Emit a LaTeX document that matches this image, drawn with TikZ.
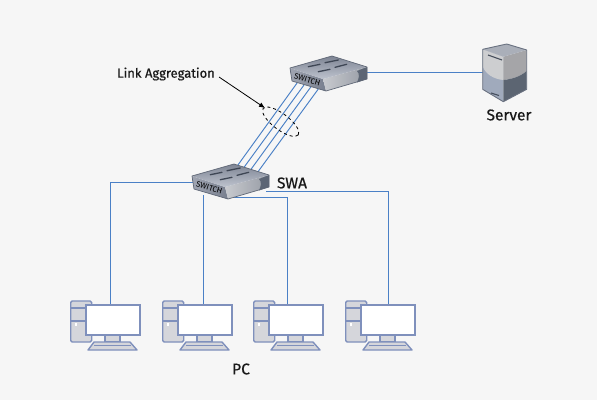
\documentclass[tikz,border=0pt]{standalone}
\usepackage{fontspec}
\setmainfont{Fira Sans}
\newfontfamily\lblfont[FakeBold=0.5]{Fira Sans}
\usetikzlibrary{shapes.geometric,arrows.meta,backgrounds}
\definecolor{bgc}{HTML}{F6F6F6}
\definecolor{linkc}{HTML}{4A80C6}
\definecolor{pcs}{HTML}{7F90BC}
\definecolor{pcf}{HTML}{D5D6DB}
\tikzset{
  conn/.style={draw=linkc,line width=0.95pt},
  lbl/.style={font=\lblfont\fontsize{13}{15}\selectfont,text=black!90,inner sep=0pt},
  biglbl/.style={font=\lblfont\fontsize{15.5}{17}\selectfont,text=black!90,inner sep=0pt},
  pics/switchicon/.style={code={
    \node[inner sep=0pt,minimum width=77pt,minimum height=34pt] (-body) at (38,5) {};
    \shade[left color={rgb,255:red,160;green,165;blue,178},right color={rgb,255:red,120;green,127;blue,142},line join=round] (0,0) -- (33,11) -- (36,23) -- (2,13) -- cycle;
    \shade[left color={rgb,255:red,200;green,202;blue,207},right color={rgb,255:red,150;green,155;blue,164}] (33,11) -- (77,-1) -- (77,11) -- (36,23) -- cycle;
    \fill[fill={rgb,255:red,92;green,101;blue,116}] (67,3) .. controls (70,6) and (69,10) .. (67,14.5) -- (77,11) -- (77,-1) -- cycle;
    \shade[top color={rgb,255:red,125;green,132;blue,147},bottom color={rgb,255:red,190;green,195;blue,206}] (0,0) -- (42,-12) -- (77,-1) -- (33,11) -- cycle;
    \draw[draw={rgb,255:red,62;green,70;blue,84},line width=1.3pt,line cap=round]
      (18.3,-1.3) -- (30,-3.7) (35,-5.3) -- (48.3,-8) (28.3,3.7) -- (40,1.3) (45,-0.7) -- (56.7,-3.7);
    \draw[draw={rgb,255:red,95;green,103;blue,118},line width=0.7pt,line join=round] (0,0) -- (2,13) -- (36,23) -- (77,11) -- (77,-1) -- (42,-12) -- cycle;
    \node[rotate=-17,inner sep=0pt,text=black,font=\fontsize{8}{9}\selectfont] at (17.3,11.5) {SWITCH};
  }},
  pics/pcicon/.style={code={
    \draw[draw=pcs,fill=pcf,line width=1.4pt,rounded corners=1.5pt] (0.7,0) rectangle (21.7,41);
    \draw[draw=pcs,line width=1.4pt] (0.7,7) -- (15,7) (0.7,20) -- (15,20);
    \fill[white] (4.5,22) rectangle +(2.5,2.5);
    \draw[draw=pcs,fill=pcf,line width=1.1pt] (35,34) rectangle (50,41);
    \draw[draw=pcs,fill=pcf,line width=1.4pt,line join=round] (24,41) -- (60,41) -- (67,49) -- (18,49) -- cycle;
    \draw[draw=pcs,line width=0.8pt] (24,44.5) -- (61,44.5);
    \node[draw=pcs,fill=white,line width=2pt,inner sep=0pt,minimum width=54pt,minimum height=30pt] (-monitor) at (42.5,19) {};
  }},
  pics/servericon/.style={code={
    \fill[fill={rgb,255:red,160;green,170;blue,188}] (-24.3,5.3) -- (-3.7,12.7) -- (-3.7,57.7) -- (-24.3,45.3) -- cycle;
    \fill[fill={rgb,255:red,205;green,206;blue,208}] (-24.3,5.3) -- (-3.7,12.7) -- (-3.7,36) .. controls (-14,35) and (-21,30) .. (-24.3,22.7) -- cycle;
    \fill[fill={rgb,255:red,165;green,165;blue,168}] (-3.7,12.7) -- (19.7,6) -- (19.7,27) .. controls (14,32) and (6,35) .. (-3.7,36) -- cycle;
    \fill[fill={rgb,255:red,92;green,101;blue,114}] (-3.7,36) .. controls (6,35) and (14,32) .. (19.7,27) -- (19.7,45.3) -- (-3.7,57.7) -- cycle;
    \fill[fill={rgb,255:red,170;green,175;blue,185}] (-24.3,5.3) -- (-0.3,0) -- (19.7,6) -- (-3.7,12.7) -- cycle;
    \draw[draw={rgb,255:red,105;green,113;blue,128},line width=0.9pt,line join=round] (-24.3,5.3) -- (-0.3,0) -- (19.7,6) -- (19.7,45.3) -- (-3.7,57.7) -- (-24.3,45.3) -- cycle;
    \draw[draw={rgb,255:red,70;green,78;blue,92},line width=1.1pt] (-19,11) -- (-5,16) (-16,49) -- (-8,51.5);
    \node[inner sep=0pt,minimum width=44pt,minimum height=58pt] (-body) at (-2,29) {};
  }},
}
\begin{document}
\begin{tikzpicture}[x=1pt,y=-1pt]
\useasboundingbox (0,0) rectangle (597,400);
\begin{scope}[on background layer]
  \fill[bgc] (0,0) rectangle (597,400);
\end{scope}
% devices
\pic (swb) at (290,68) {switchicon};
\pic (swa) at (192,176) {switchicon};
\pic (srv) at (507,44) {servericon};
\pic (pc1) at (70,301) {pcicon};
\pic (pc2) at (162,301) {pcicon};
\pic (pc3) at (253,301) {pcicon};
\pic (pc4) at (345,301) {pcicon};
% connector ends
\coordinate (b1) at (297.3,82.7); \coordinate (a1) at (236.7,166.7);
\coordinate (b2) at (304,85);     \coordinate (a2) at (243.3,168.3);
\coordinate (b3) at (311,86.7);   \coordinate (a3) at (250,170.7);
\coordinate (b4) at (318.3,89);   \coordinate (a4) at (257.3,172.7);
\coordinate (sbr) at (367,72);    \coordinate (srvl) at (483,72);
\coordinate (pl) at (193,182);    \coordinate (t1) at (110,304);
\coordinate (pm) at (203,195);    \coordinate (t2) at (203,304);
\coordinate (pn) at (233,197);    \coordinate (t3) at (287,304);
\coordinate (pr) at (266,191);    \coordinate (t4) at (388,304);
\begin{scope}[on background layer]
  \draw[conn] (b1) -- (a1);
  \draw[conn] (b2) -- (a2);
  \draw[conn] (b3) -- (a3);
  \draw[conn] (b4) -- (a4);
  \draw[conn] (sbr) -- (srvl);
  \draw[conn] (pl) -| (t1);
  \draw[conn] (pm) -- (t2);
  \draw[conn] (pn) -| (t3);
  \draw[conn] (pr) -| (t4);
\end{scope}
% aggregation marker
\node[ellipse,draw=black,dashed,line width=0.8pt,inner sep=0pt,minimum width=44pt,minimum height=16pt,rotate=-37] (lag) at (280.7,121.7) {};
\node[lbl,anchor=center] (link) at (166,74) {Link Aggregation};
\coordinate (arrowend) at (265,108);
\coordinate (arrowstart) at (219,77);
\draw[-{Latex[length=6pt,width=5pt]},black,line width=0.8pt] (arrowstart) -- (arrowend);
% labels
\node[biglbl] (swal) at (292,183) {SWA};
\node[biglbl] (srvlabel) at (509,115) {Server};
\node[biglbl] (pclabel) at (241,369) {PC};
\end{tikzpicture}
\end{document}
